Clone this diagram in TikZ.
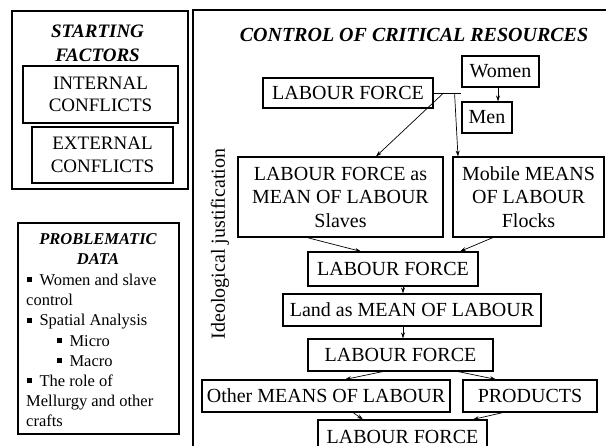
\documentclass[tikz,border=0pt]{standalone}
\usepackage{fontspec}
\setmainfont{Liberation Serif}
\usetikzlibrary{arrows.meta}
\newcommand\sqbul{\rule[0.2em]{0.3em}{0.3em}\hspace{0.45em}}
\begin{document}
\begin{tikzpicture}[x=1pt,y=-1pt,
  frame/.style={draw,line width=1.8pt,inner sep=0pt},
  box/.style={draw,line width=1.1pt,inner sep=0pt,align=center,
    font=\fontsize{20}{23.5}\selectfont},
  sidebox/.style={draw,line width=1.1pt,inner sep=0pt,align=center,
    font=\fontsize{19}{22.5}\selectfont},
  heading/.style={inner sep=0pt,align=center,font=\bfseries\itshape},
  listline/.style={inner sep=0pt,anchor=base west,font=\fontsize{16.5}{20}\selectfont},
  link/.style={line width=0.7pt,-{Stealth[length=6pt,width=4pt]}},
  plain/.style={line width=0.7pt}]
\useasboundingbox (0,0) rectangle (606,446);
\clip (0,0) rectangle (606,446);

% starting factors panel
\node[frame,minimum width=176pt,minimum height=178pt] (startbox) at (100,100) {};
\node[heading,font=\fontsize{19}{24}\selectfont\bfseries\itshape] (starthead) at (97.5,43.5) {STARTING\\FACTORS};
\node[sidebox,minimum width=155pt,minimum height=57pt] (internal) at (100.5,94.5) {INTERNAL\\CONFLICTS};
\node[sidebox,minimum width=141pt,minimum height=56pt] (external) at (102.5,155) {EXTERNAL\\CONFLICTS};

% problematic data panel
\node[frame,minimum width=161pt,minimum height=211pt] (probbox) at (98.5,328.5) {};
\node[heading,font=\fontsize{16.5}{20.2}\selectfont\bfseries\itshape] (probhead) at (98,249) {PROBLEMATIC\\DATA};
\node[listline] (pd1) at (27,285.5) {\sqbul Women and slave};
\node[listline] (pd2) at (26,305.7) {control};
\node[listline] (pd3) at (27,325.9) {\sqbul Spatial Analysis};
\node[listline] (pd4) at (57,346.1) {\sqbul Micro};
\node[listline] (pd5) at (57,366.3) {\sqbul Macro};
\node[listline] (pd6) at (27,386.5) {\sqbul The role of};
\node[listline] (pd7) at (26,406.7) {Mellurgy and other};
\node[listline] (pd8) at (26,426.9) {crafts};

% main panel frame
\coordinate (mainbl) at (193,446);
\coordinate (maintl) at (193,10);
\coordinate (maintr) at (606,10);
\draw[line width=1.8pt] (mainbl) -- (maintl) -- (maintr);
\node[heading,font=\fontsize{20}{24}\selectfont\bfseries\itshape] (title) at (414,35) {CONTROL OF CRITICAL RESOURCES};
\node[inner sep=0pt,rotate=90,font=\fontsize{20}{24}\selectfont] (ideo) at (220,244) {Ideological justification};

% flow boxes
\node[box,minimum width=170pt,minimum height=30pt] (lf1) at (348,93) {LABOUR FORCE};
\node[box,minimum width=77pt,minimum height=31pt] (women) at (500.5,71.5) {Women};
\node[box,minimum width=50pt,minimum height=31pt] (men) at (487,117.5) {Men};
\node[box,minimum width=205pt,minimum height=80pt] (lfas) at (340.5,197) {LABOUR FORCE as\\MEAN OF LABOUR\\Slaves};
\node[box,minimum width=151pt,minimum height=80pt] (mobile) at (528.5,197) {Mobile MEANS\\OF LABOUR\\Flocks};
\node[box,minimum width=170pt,minimum height=34pt] (lf2) at (393,269) {LABOUR FORCE};
\node[box,minimum width=258pt,minimum height=32pt] (land) at (412,310) {Land as MEAN OF LABOUR};
\node[box,minimum width=185pt,minimum height=32pt] (lf3) at (400.5,355) {LABOUR FORCE};
\node[box,minimum width=248pt,minimum height=32pt] (other) at (326,396) {Other MEANS OF LABOUR};
\node[box,minimum width=134pt,minimum height=32pt] (products) at (530,396) {PRODUCTS};
\node[box,minimum width=169pt,minimum height=34pt] (lf4) at (402.5,437) {LABOUR FORCE};

% connectors
\coordinate (wmj) at (women.west |- lf1.east);
\draw[plain] (lf1.east) -- (wmj);
\draw[link] ([xshift=-2.5pt]women.south) -- ([xshift=11pt]men.north);
\draw[link] ([xshift=10pt]lf1.east) -- ([xshift=35.5pt]lfas.north);
\draw[link] ([xshift=21pt]lf1.east) -- ([xshift=-70.5pt]mobile.north);
\draw[link] ([xshift=-33.5pt]lfas.south) -- ([xshift=-32pt]lf2.north);
\draw[link] ([xshift=-35.5pt]mobile.south) -- ([xshift=67pt]lf2.north);
\draw[link] ([xshift=10pt]lf2.south) -- ([xshift=-9pt]land.north);
\draw[link] ([xshift=-9pt]land.south) -- ([xshift=2.5pt]lf3.north);
\draw[link] ([xshift=-17.5pt]lf3.south) -- ([xshift=19pt]other.north);
\draw[link] ([xshift=57.5pt]lf3.south) -- ([xshift=-34pt]products.north);
\draw[link] ([xshift=27pt]other.south) -- ([xshift=-39.5pt]lf4.north);
\draw[link] ([xshift=-27pt]products.south) -- ([xshift=70.5pt]lf4.north);
\end{tikzpicture}
\end{document}
